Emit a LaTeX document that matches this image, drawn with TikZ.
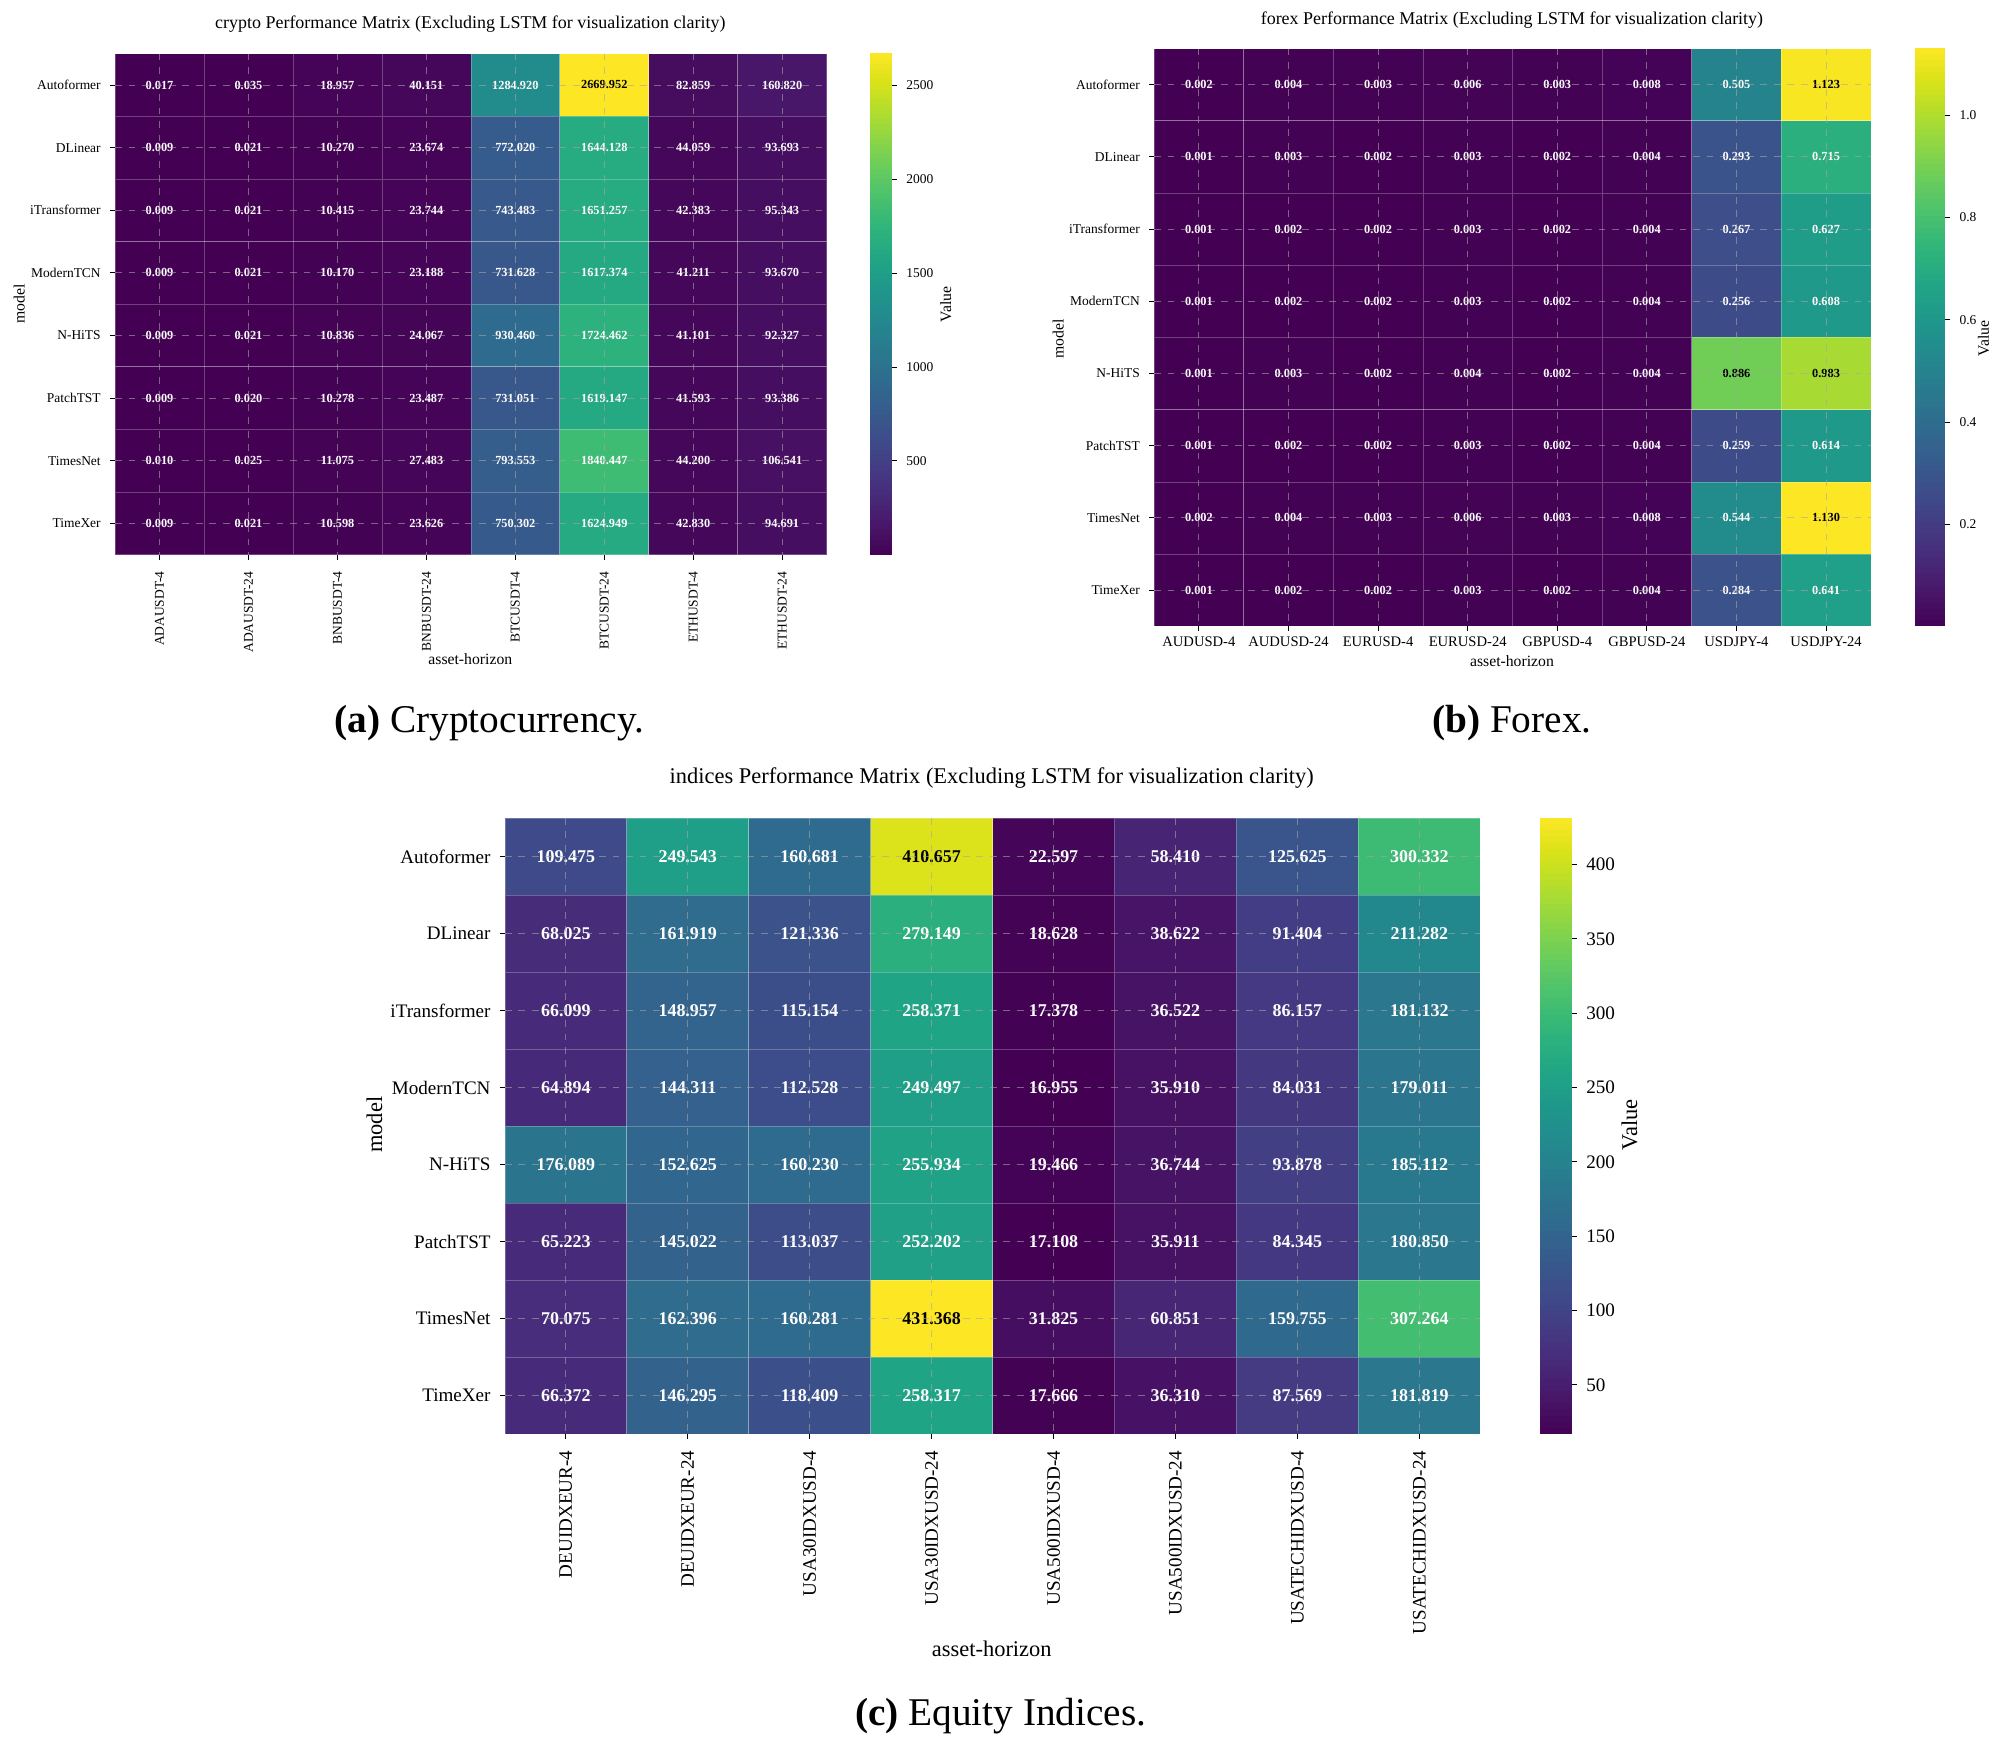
\documentclass[tikz,border=0pt]{standalone}
\usepackage{fontspec}
\setmainfont{Liberation Serif}
\usepackage{pgfplots}
\pgfplotsset{compat=1.18,colormap/viridis}
\tikzset{
 x=0.02cm,y=-0.02cm,
 cellbox/.style={draw=white,draw opacity=0.25,line width=0.3pt,inner sep=0pt,outer sep=0pt},
 gridln/.style={gray!70,opacity=0.6,dashed,line width=0.4pt},
 cellfont/.style={font=\fontsize{5.5}{6}\selectfont\bfseries},
 rowfont/.style={font=\fontsize{6}{7}\selectfont},
 tickfont/.style={font=\fontsize{6}{7}\selectfont},
 axfont/.style={font=\fontsize{7}{8}\selectfont},
 titfont/.style={font=\fontsize{8}{9}\selectfont},
 capfont/.style={font=\fontsize{17.5}{20}\selectfont},
}
\newcommand\hmap[8]{%
 \foreach \nm/\vals [count=\rr from 0] in {#8}{%
   \foreach \v [count=\cc from 0] in \vals {%
     \pgfmathtruncatemacro\hmt{max(0,min(1000,(\v-#6)/(#7-#6)*1000))}%
     \pgfplotscolormapdefinemappedcolor{\hmt}%
     \ifnum\hmt>700 \def\hmtc{black}\else\def\hmtc{white}\fi
     \node[cellbox,cellfont,fill=mapped color,text=\hmtc,minimum width={#4*0.02cm},minimum height={#5*0.02cm}]
       (#1c\rr-\cc) at ({#2+(\cc+0.5)*#4},{#3+(\rr+0.5)*#5}) {\v};
   }
   \draw[line width=0.4pt] ({#2-4},{#3+(\rr+0.5)*#5}) -- ({#2},{#3+(\rr+0.5)*#5});
   \node[rowfont,anchor=east] (#1r\rr) at ({#2-5},{#3+(\rr+0.5)*#5}) {\nm};
 }
 \foreach \cc in {0,...,7}{
   \draw[gridln] ({#2+(\cc+0.5)*#4},{#3}) -- ({#2+(\cc+0.5)*#4},{#3+8*#5});
   \draw[gridln] ({#2},{#3+(\cc+0.5)*#5}) -- ({#2+8*#4},{#3+(\cc+0.5)*#5});
   \draw[line width=0.4pt] ({#2+(\cc+0.5)*#4},{#3+8*#5}) -- ({#2+(\cc+0.5)*#4},{#3+8*#5+4});
 }
}
\newcommand\cbar[8]{%
 \foreach \i in {0,...,99}{
   \pgfmathtruncatemacro\hmt{\i*10+5}%
   \pgfplotscolormapdefinemappedcolor{\hmt}%
   \fill[mapped color] ({#2},{#3+#5-\i/100*#5}) rectangle ({#2+#4},{#3+#5-(\i+1)/100*#5-0.3});
 }
 \foreach \t in {#8}{
   \pgfmathsetmacro\ty{#3+#5-(\t-#6)/(#7-#6)*#5}
   \draw[line width=0.4pt] ({#2+#4},\ty) -- ({#2+#4+4},\ty);
   \node[tickfont,anchor=west] (#1t\t) at ({#2+#4+5},\ty) {\t};
 }
}
\begin{document}
\begin{tikzpicture}
\useasboundingbox[fill=white] (0,0) rectangle (1568,1366);
% ---------------- (a) crypto
\node[titfont] (atitle) at (368,19) {crypto Performance Matrix (Excluding LSTM for visualization clarity)};
\hmap{a}{90}{42}{69.6}{49}{0.009}{2669.952}{%
Autoformer/{0.017,0.035,18.957,40.151,1284.920,2669.952,82.859,160.820},
DLinear/{0.009,0.021,10.270,23.674,772.020,1644.128,44.059,93.693},
iTransformer/{0.009,0.021,10.415,23.744,743.483,1651.257,42.383,95.343},
ModernTCN/{0.009,0.021,10.170,23.188,731.628,1617.374,41.211,93.670},
N-HiTS/{0.009,0.021,10.836,24.067,930.460,1724.462,41.101,92.327},
PatchTST/{0.009,0.020,10.278,23.487,731.051,1619.147,41.593,93.386},
TimesNet/{0.010,0.025,11.075,27.483,793.553,1840.447,44.200,106.541},
TimeXer/{0.009,0.021,10.598,23.626,750.302,1624.949,42.830,94.691}}
\foreach \lab [count=\cc from 0] in {ADAUSDT-4,ADAUSDT-24,BNBUSDT-4,BNBUSDT-24,BTCUSDT-4,BTCUSDT-24,ETHUSDT-4,ETHUSDT-24}
  \node[tickfont,rotate=90,anchor=east] (acl\cc) at ({90+(\cc+0.5)*69.6},441) {\lab};
\node[axfont] (axa) at (368,516) {asset-horizon};
\node[axfont,rotate=90] (aya) at (15,238) {model};
\cbar{ab}{681}{42}{17}{392}{0.009}{2669.952}{500,1000,1500,2000,2500}
\node[axfont,rotate=90] (ava) at (740,238) {Value};
\node[capfont] (acap) at (383,566) {\textbf{(a)} Cryptocurrency.};
% ---------------- (b) forex
\node[titfont] (btitle) at (1183,16) {forex Performance Matrix (Excluding LSTM for visualization clarity)};
\hmap{b}{903}{38}{70.1}{56.5}{0.001}{1.130}{%
Autoformer/{0.002,0.004,0.003,0.006,0.003,0.008,0.505,1.123},
DLinear/{0.001,0.003,0.002,0.003,0.002,0.004,0.293,0.715},
iTransformer/{0.001,0.002,0.002,0.003,0.002,0.004,0.267,0.627},
ModernTCN/{0.001,0.002,0.002,0.003,0.002,0.004,0.256,0.608},
N-HiTS/{0.001,0.003,0.002,0.004,0.002,0.004,0.886,0.983},
PatchTST/{0.001,0.002,0.002,0.003,0.002,0.004,0.259,0.614},
TimesNet/{0.002,0.004,0.003,0.006,0.003,0.008,0.544,1.130},
TimeXer/{0.001,0.002,0.002,0.003,0.002,0.004,0.284,0.641}}
\foreach \lab [count=\cc from 0] in {AUDUSD-4,AUDUSD-24,EURUSD-4,EURUSD-24,GBPUSD-4,GBPUSD-24,USDJPY-4,USDJPY-24}
  \node[font=\fontsize{6.5}{7}\selectfont] (bcl\cc) at ({903+(\cc+0.5)*70.1},502) {\lab};
\node[axfont] (axb) at (1183,517) {asset-horizon};
\node[axfont,rotate=90] (ayb) at (828,265) {model};
\cbar{bb}{1498}{38}{24}{452}{0.001}{1.130}{0.2,0.4,0.6,0.8,1.0}
\node[axfont,rotate=90] (bva) at (1552,265) {Value};
\node[capfont] (bcap) at (1183,566) {\textbf{(b)} Forex.};
% ---------------- (c) indices
\tikzset{cellfont/.style={font=\fontsize{8}{9}\selectfont\bfseries},
 rowfont/.style={font=\fontsize{8.5}{10}\selectfont},
 tickfont/.style={font=\fontsize{8.5}{10}\selectfont}}
\node[font=\fontsize{10}{12}\selectfont] (ctitle) at (776,609) {indices Performance Matrix (Excluding LSTM for visualization clarity)};
\hmap{c}{395}{640}{95.4}{60.25}{16.955}{431.368}{%
Autoformer/{109.475,249.543,160.681,410.657,22.597,58.410,125.625,300.332},
DLinear/{68.025,161.919,121.336,279.149,18.628,38.622,91.404,211.282},
iTransformer/{66.099,148.957,115.154,258.371,17.378,36.522,86.157,181.132},
ModernTCN/{64.894,144.311,112.528,249.497,16.955,35.910,84.031,179.011},
N-HiTS/{176.089,152.625,160.230,255.934,19.466,36.744,93.878,185.112},
PatchTST/{65.223,145.022,113.037,252.202,17.108,35.911,84.345,180.850},
TimesNet/{70.075,162.396,160.281,431.368,31.825,60.851,159.755,307.264},
TimeXer/{66.372,146.295,118.409,258.317,17.666,36.310,87.569,181.819}}
\foreach \lab [count=\cc from 0] in {DEUIDXEUR-4,DEUIDXEUR-24,USA30IDXUSD-4,USA30IDXUSD-24,USA500IDXUSD-4,USA500IDXUSD-24,USATECHIDXUSD-4,USATECHIDXUSD-24}
  \node[tickfont,rotate=90,anchor=east] (ccl\cc) at ({395+(\cc+0.5)*95.4},1129) {\lab};
\node[font=\fontsize{10}{12}\selectfont] (axc) at (776,1290) {asset-horizon};
\node[font=\fontsize{10}{12}\selectfont,rotate=90] (ayc) at (293,880) {model};
\cbar{cb}{1205}{640}{25}{482}{16.955}{431.368}{50,100,150,200,250,300,350,400}
\node[font=\fontsize{10}{12}\selectfont,rotate=90] (cva) at (1275,880) {Value};
\node[capfont] (ccap) at (783,1343) {\textbf{(c)} Equity Indices.};
\end{tikzpicture}
\end{document}
